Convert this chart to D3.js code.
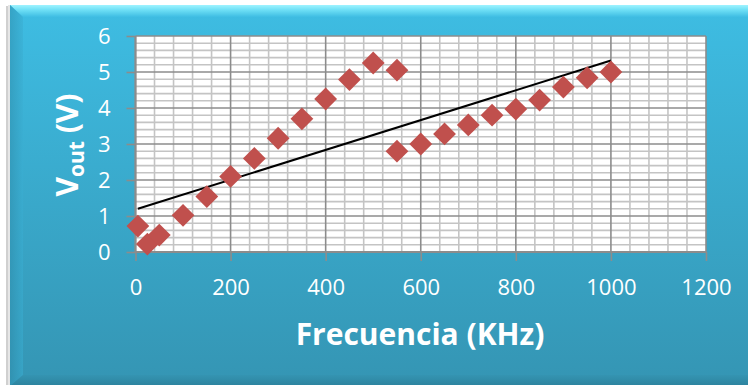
<!DOCTYPE html>
<html><head><meta charset="utf-8">
<script src="https://cdn.jsdelivr.net/npm/d3@7"></script>
<style>html,body{margin:0;padding:0;background:#fff;}svg{display:block;}</style>
</head><body>
<svg id="c" width="748" height="385"></svg>
<script>
const freq = [5, 25, 50, 100, 150, 200, 250, 300, 350, 400, 450, 500, 550, 550, 600, 650, 700, 750, 800, 850, 900, 950, 1000];
const vout = [0.72, 0.22, 0.47, 1.02, 1.54, 2.1, 2.6, 3.16, 3.7, 4.25, 4.79, 5.25, 5.05, 2.8, 3.0, 3.28, 3.53, 3.8, 3.97, 4.22, 4.58, 4.84, 5.0];
const xTicks = [0, 200, 400, 600, 800, 1000, 1200];
const yTicks = [0, 1, 2, 3, 4, 5, 6];
// linear trendline as drawn in the picture
const trendIntercept = 1.18;
const trendSlope = 0.00414;

const svg = d3.select("#c");
const defs = svg.append("defs");
const bg = defs.append("linearGradient").attr("id","bg").attr("x1",0).attr("y1",0).attr("x2",0).attr("y2",1);
bg.append("stop").attr("offset","0%").attr("stop-color","#3ebde3");
bg.append("stop").attr("offset","100%").attr("stop-color","#3493b1");
const topB = defs.append("linearGradient").attr("id","topB").attr("x1",0).attr("y1",0).attr("x2",0).attr("y2",1);
topB.append("stop").attr("offset","0%").attr("stop-color","#9ff3ff");
topB.append("stop").attr("offset","40%").attr("stop-color","#6fe0f6");
topB.append("stop").attr("offset","100%").attr("stop-color","#3ebde3");
const botB = defs.append("linearGradient").attr("id","botB").attr("x1",0).attr("y1",0).attr("x2",0).attr("y2",1);
botB.append("stop").attr("offset","0%").attr("stop-color","#3493b1");
botB.append("stop").attr("offset","100%").attr("stop-color","#2b7e98");
const leftB = defs.append("linearGradient").attr("id","leftB").attr("x1",0).attr("y1",0).attr("x2",1).attr("y2",0);
leftB.append("stop").attr("offset","0%").attr("stop-color","#2f8fae");
leftB.append("stop").attr("offset","100%").attr("stop-color","#3aaed2");

// shadow
svg.append("rect").attr("x",6).attr("y",6).attr("width",760).attr("height",400).attr("fill","#d0d0d0");
svg.append("rect").attr("x",8).attr("y",5).attr("width",760).attr("height",400).attr("fill","#e6e6e6");
// frame
const fx = 10, fy = 5, fw = 760, fh = 400;
svg.append("rect").attr("x",fx).attr("y",fy).attr("width",fw).attr("height",fh).attr("fill","url(#bg)");
// bevels
svg.append("path").attr("d",`M${fx},${fy} L${fx+fw},${fy} L${fx+fw},${fy+12} L${fx+13},${fy+12} Z`).attr("fill","url(#topB)");
svg.append("path").attr("d",`M${fx},${fy} L${fx+13},${fy+12} L${fx+13},${375} L${fx},${386} Z`).attr("fill","url(#leftB)").attr("opacity",0.55);
svg.append("path").attr("d",`M${fx},386 L${fx+13},375 L${fx+fw},375 L${fx+fw},386 Z`).attr("fill","url(#botB)").attr("opacity",0.8);

// plot area
const L = 135.5, R = 706, T = 36, B = 252;
const x = d3.scaleLinear().domain([0,1200]).range([L,R]);
const y = d3.scaleLinear().domain([0,6]).range([B,T]);

const g = svg.append("g");
g.append("rect").attr("x",L).attr("y",T).attr("width",R-L).attr("height",B-T).attr("fill","#fff");

const minorX = d3.range(0,1201,40).filter(v=>v%200!==0);
const minorY = d3.range(0,31).map(i=>i*0.2).filter((v,i)=>i%5!==0);
g.selectAll(".mx").data(minorX).join("line").attr("x1",d=>x(d)).attr("x2",d=>x(d)).attr("y1",T).attr("y2",B)
 .attr("stroke","#c4c4c4").attr("stroke-width",1.6);
g.selectAll(".my").data(minorY).join("line").attr("y1",d=>y(d)).attr("y2",d=>y(d)).attr("x1",L).attr("x2",R)
 .attr("stroke","#c4c4c4").attr("stroke-width",1.6);
g.selectAll(".Mx").data(xTicks).join("line").attr("x1",d=>x(d)).attr("x2",d=>x(d)).attr("y1",T).attr("y2",B)
 .attr("stroke","#8c8c8c").attr("stroke-width",1.6);
g.selectAll(".My").data(yTicks).join("line").attr("y1",d=>y(d)).attr("y2",d=>y(d)).attr("x1",L).attr("x2",R)
 .attr("stroke","#8c8c8c").attr("stroke-width",1.6);

// axes
const xAxis = d3.axisBottom(x).tickValues(xTicks).tickSize(9).tickPadding(18).tickFormat(d3.format("d"));
const yAxis = d3.axisLeft(y).tickValues(yTicks).tickSize(9).tickPadding(16).tickFormat(d3.format("d"));
const gx = svg.append("g").attr("transform",`translate(0,${B})`).call(xAxis);
const gy = svg.append("g").attr("transform",`translate(${L},0)`).call(yAxis);
[gx,gy].forEach(a=>{
  a.select(".domain").attr("stroke","#8c8c8c").attr("stroke-width",2);
  a.selectAll(".tick line").attr("stroke","#8c8c8c").attr("stroke-width",1.6);
  a.selectAll("text").attr("fill","#fff").attr("font-family","Open Sans, sans-serif").attr("font-size",22);
});
gx.select(".domain").attr("d",`M${L},0H${R}`);
gy.select(".domain").attr("d",`M0,${B}V${T}`);

// trend line
const x0 = d3.min(freq), x1 = d3.max(freq);
svg.append("line").attr("x1",x(x0)).attr("y1",y(trendIntercept+trendSlope*x0))
 .attr("x2",x(x1)).attr("y2",y(trendIntercept+trendSlope*x1))
 .attr("stroke","#000").attr("stroke-width",2);

// markers (diamonds)
svg.selectAll(".pt").data(freq.map((f,i)=>[f,vout[i]])).join("path")
 .attr("d",d3.symbol(d3.symbolSquare, 260))
 .attr("transform",d=>`translate(${x(d[0])},${y(d[1])}) rotate(45)`)
 .attr("fill","#c0504d");

// titles
svg.append("text").attr("x",420).attr("y",345).attr("text-anchor","middle")
 .attr("fill","#fff").attr("font-family","Open Sans, sans-serif").attr("font-weight","bold").attr("font-size",30)
 .text("Frecuencia (KHz)");
const yt = svg.append("text").attr("transform","translate(78,145) rotate(-90)").attr("text-anchor","middle")
 .attr("fill","#fff").attr("font-family","Open Sans, sans-serif").attr("font-weight","bold").attr("font-size",30);
yt.append("tspan").text("V");
yt.append("tspan").attr("font-size",21).attr("dy",6).text("out");
yt.append("tspan").attr("dy",-6).text(" (V)");
</script>
</body></html>
